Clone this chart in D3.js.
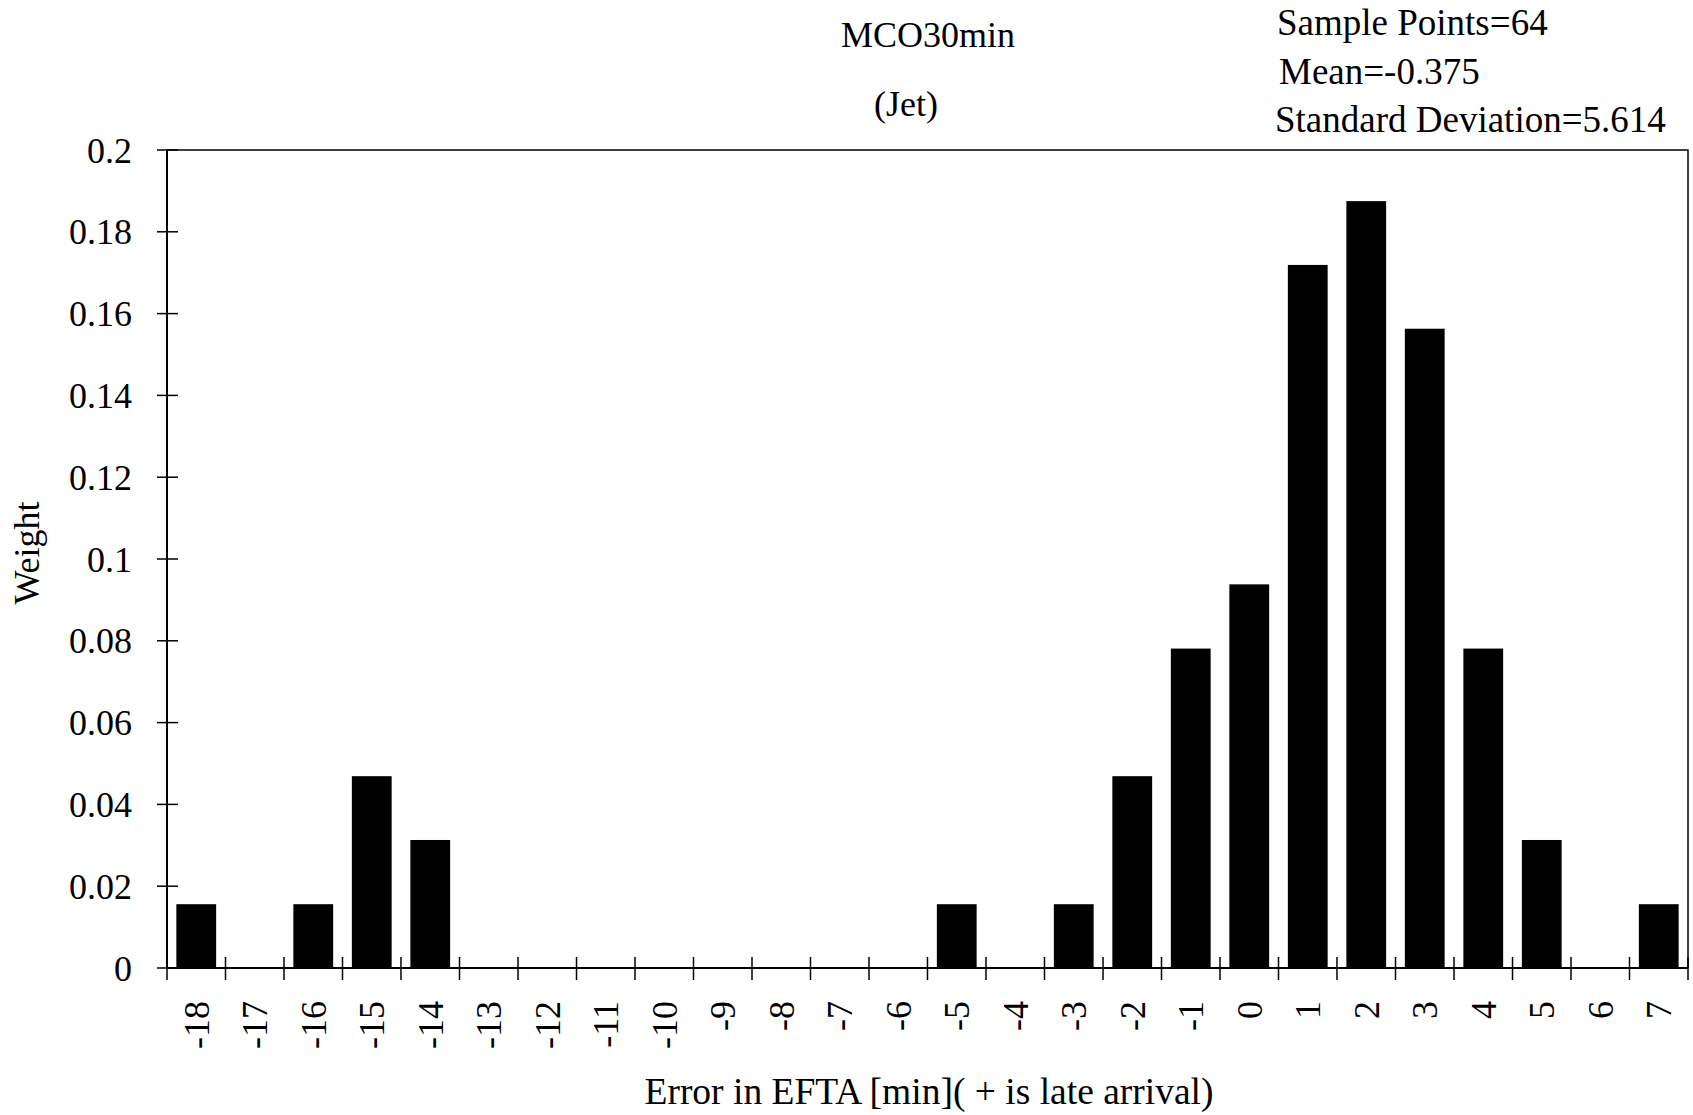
<!DOCTYPE html>
<html>
<head>
<meta charset="utf-8">
<script src="https://cdn.jsdelivr.net/npm/d3@7"></script>
<style>
  html, body { margin: 0; padding: 0; background: #fff; }
  svg { display: block; }
  text { font-family: "Liberation Serif", "Times New Roman", serif; fill: #000; }
</style>
</head>
<body>
<svg id="chart" width="1693" height="1115"></svg>
<script>
// ---- data ----
const categories = [-18,-17,-16,-15,-14,-13,-12,-11,-10,-9,-8,-7,-6,-5,-4,-3,-2,-1,0,1,2,3,4,5,6,7];
const weights    = [0.0156,0,0.0156,0.0469,0.0313,0,0,0,0,0,0,0,0,0.0156,0,0.0156,0.0469,0.0781,0.0938,0.1719,0.1875,0.1563,0.0781,0.0313,0,0.0156];
const yTickValues = [0,0.02,0.04,0.06,0.08,0.1,0.12,0.14,0.16,0.18,0.2];
const yTickLabels = ["0","0.02","0.04","0.06","0.08","0.1","0.12","0.14","0.16","0.18","0.2"];
const titleLines = ["MCO30min", "(Jet)"];
const statLines = ["Sample Points=64", "Mean=-0.375", "Standard Deviation=5.614"];
const xTitle = "Error in EFTA [min]( + is late arrival)";
const yTitle = "Weight";

(function () {
// ---- layout ----
const pLeft = 167, pRight = 1688, pTop = 150, pBottom = 968;
const svg = d3.select("#chart");

const x = d3.scaleBand().domain(categories).range([pLeft, pRight]).paddingInner(0.32).paddingOuter(0.16);
const y = d3.scaleLinear().domain([0, 0.2]).range([pBottom, pTop]);
const step = x.step();
const gap = (step - x.bandwidth()) / 2;

// frame (top & right)
svg.append("path")
  .attr("d", `M${pLeft},${pTop}H${pRight}V${pBottom}`)
  .attr("fill", "none").attr("stroke", "#000").attr("stroke-width", 1.5);

// bars
svg.append("g").selectAll("rect").data(categories).join("rect")
  .attr("x", (c) => x(c))
  .attr("width", x.bandwidth())
  .attr("y", (c, i) => y(weights[i]))
  .attr("height", (c, i) => pBottom - y(weights[i]))
  .attr("fill", "#000");

// axes lines
svg.append("line").attr("x1", pLeft).attr("x2", pLeft).attr("y1", pTop).attr("y2", pBottom)
  .attr("stroke", "#000").attr("stroke-width", 2);
svg.append("line").attr("x1", pLeft).attr("x2", pRight).attr("y1", pBottom).attr("y2", pBottom)
  .attr("stroke", "#000").attr("stroke-width", 2);

// y ticks (crossing)
const yAxis = svg.append("g");
yAxis.selectAll("line").data(yTickValues).join("line")
  .attr("x1", pLeft - 10).attr("x2", pLeft + 11)
  .attr("y1", (d) => y(d)).attr("y2", (d) => y(d))
  .attr("stroke", "#000").attr("stroke-width", 1.5);
yAxis.selectAll("text").data(yTickValues).join("text")
  .attr("x", 132).attr("y", (d) => y(d))
  .attr("dy", "0.35em").attr("text-anchor", "end")
  .attr("font-size", 36)
  .text((d, i) => yTickLabels[i]);

// x ticks at band boundaries
const boundaries = categories.map((c) => x(c) - gap).concat([x(categories[categories.length - 1]) + x.bandwidth() + gap]);
svg.append("g").selectAll("line").data(boundaries).join("line")
  .attr("x1", (d) => d).attr("x2", (d) => d)
  .attr("y1", pBottom - 11).attr("y2", pBottom + 12)
  .attr("stroke", "#000").attr("stroke-width", 1.5);

// x tick labels (rotated)
svg.append("g").selectAll("text").data(categories).join("text")
  .attr("transform", (c) => `translate(${x(c) + x.bandwidth() / 2},1001) rotate(-90)`)
  .attr("dy", "0.35em").attr("text-anchor", "end")
  .attr("font-size", 36)
  .text((c) => String(c));

// titles
svg.append("text").attr("x", 928).attr("y", 47).attr("text-anchor", "middle")
  .attr("font-size", 36).text(titleLines[0]);
svg.append("text").attr("x", 906).attr("y", 116).attr("text-anchor", "middle")
  .attr("font-size", 36).text(titleLines[1]);

// stats
const statX = [1277, 1279, 1275];
const statY = [35, 84, 132];
statLines.forEach((s, i) => {
  svg.append("text").attr("x", statX[i]).attr("y", statY[i])
    .attr("font-size", 37).text(s);
});

// axis titles
svg.append("text").attr("x", 929).attr("y", 1104).attr("text-anchor", "middle")
  .attr("font-size", 37.5).text(xTitle);
svg.append("text").attr("transform", "translate(39,553) rotate(-90)")
  .attr("text-anchor", "middle").attr("font-size", 36).text(yTitle);
})();
</script>
</body>
</html>
